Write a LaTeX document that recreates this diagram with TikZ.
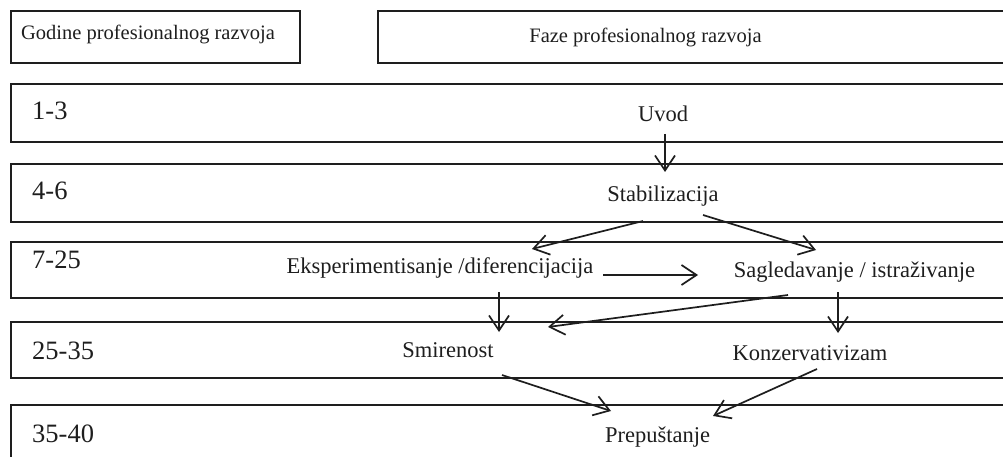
\documentclass[tikz,border=0pt]{standalone}
\usepackage{fontspec}
\setmainfont{Liberation Serif}
\usetikzlibrary{arrows.meta,calc}
\definecolor{ink}{HTML}{1E1E1E}
\begin{document}
\begin{tikzpicture}[x=1pt,y=-1pt,
  boxstyle/.style={draw=ink,line width=1.8pt,inner sep=0pt,anchor=north west,minimum height=58pt},
  headtext/.style={anchor=base,inner sep=0pt,text=ink,font=\fontsize{20.5}{24}\selectfont},
  rowtext/.style={anchor=base west,inner sep=0pt,text=ink,font=\fontsize{26.5}{30}\selectfont},
  phase/.style={anchor=base,inner sep=0pt,text=ink,font=\fontsize{22.5}{27}\selectfont},
  arr/.style={draw=ink,line width=1.7pt,-{Straight Barb[length=15pt,width=20pt]}}]
\clip (0,0) rectangle (1003,457);
\fill[white] (0,0) rectangle (1003,457);
% header boxes
\node[boxstyle,minimum width=289pt,minimum height=52pt] (h1) at (10,10) {};
\node[boxstyle,minimum width=633pt,minimum height=52pt] (h2) at (377,10) {};
\node[headtext] (h1t) at (148,39.5) {Godine profesionalnog razvoja};
\node[headtext] (h2t) at (645.5,43) {Faze profesionalnog razvoja};
% row boxes
\node[boxstyle,minimum width=1000pt,minimum height=58pt] (r1) at (10,83) {};
\node[boxstyle,minimum width=1000pt,minimum height=58pt] (r2) at (10,163) {};
\node[boxstyle,minimum width=1000pt,minimum height=56pt] (r3) at (10,241) {};
\node[boxstyle,minimum width=1000pt,minimum height=56pt] (r4) at (10,321) {};
\node[boxstyle,minimum width=1000pt,minimum height=58pt] (r5) at (10,404) {};
% row labels
\node[rowtext] (y1) at (32,120) {1-3};
\node[rowtext] (y2) at (32,199) {4-6};
\node[rowtext] (y3) at (32,268) {7-25};
\node[rowtext] (y4) at (32,359) {25-35};
\node[rowtext] (y5) at (32,442) {35-40};
% phases
\node[phase] (uvod) at (663,122) {Uvod};
\node[phase] (stab) at (663,201) {Stabilizacija};
\node[phase] (eksp) at (440,273) {Eksperimentisanje /diferencijacija};
\node[phase] (sagl) at (854.5,277) {Sagledavanje / istraživanje};
\node[phase] (smir) at (448,357) {Smirenost};
\node[phase] (konz) at (810,360) {Konzervativizam};
\node[phase] (prep) at (657.5,442) {Prepuštanje};
% connectors
\draw[arr] ($(uvod.base)+(2,12)$) -- ($(stab.base)+(2,-29)$);
\draw[arr] ($(stab.base)+(-20,20)$) -- ($(eksp.base)+(92,-24)$);
\draw[arr] ($(stab.base)+(40,14)$) -- ($(sagl.base)+(-38.5,-27)$);
\draw[arr] ($(eksp.base)+(163,2)$) -- ($(sagl.base)+(-156.5,-2)$);
\draw[arr] ($(sagl.base)+(-66.5,18)$) -- ($(smir.base)+(100,-30)$);
\draw[arr] ($(eksp.base)+(59,19)$) -- ($(smir.base)+(51,-25)$);
\draw[arr] ($(sagl.base)+(-16.5,15)$) -- ($(konz.base)+(28,-27)$);
\draw[arr] ($(smir.base)+(54,18)$) -- ($(prep.base)+(-46.5,-31)$);
\draw[arr] ($(konz.base)+(7,9)$) -- ($(prep.base)+(55.5,-26)$);
\end{tikzpicture}
\end{document}
